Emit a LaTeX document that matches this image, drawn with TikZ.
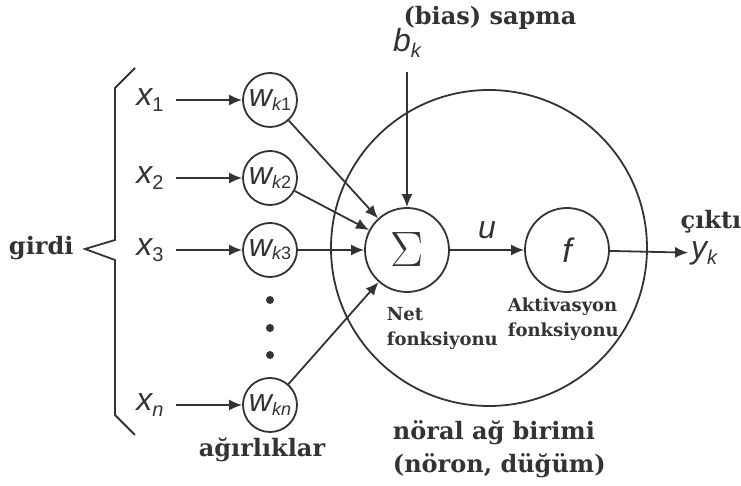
\documentclass[tikz,border=0pt]{standalone}
\usepackage{fontspec}
\setmainfont{DejaVu Serif}
\newfontfamily\lblfont{Liberation Sans}
\usetikzlibrary{positioning}
\usetikzlibrary{arrows.meta}

\definecolor{inkgray}{HTML}{333333}
\newcommand{\varsub}[2]{{\lblfont\itshape #1}\raisebox{-0.35ex}{\lblfont\fontsize{10}{10}\selectfont #2}}
\newcommand{\wsub}[1]{{\lblfont\itshape\fontsize{16}{16}\selectfont w}\raisebox{-0.3ex}{\lblfont\fontsize{9}{9}\selectfont\itshape k\upshape#1}}

\tikzset{
  wnode/.style={draw, circle, minimum size=27pt, inner sep=0pt},
  unit/.style={draw, circle, minimum size=42pt, inner sep=0pt},
  xlbl/.style={font=\lblfont\fontsize{16}{16}\selectfont, inner sep=1pt},
  bold lbl/.style={font=\bfseries\fontsize{12}{12}\selectfont},
  small lbl/.style={font=\bfseries\fontsize{9}{12.5}\selectfont, align=left, inner sep=0pt},
  link/.style={-{Latex[length=6.5pt,width=5.5pt]}, line width=0.9pt},
}

\begin{document}
\begin{tikzpicture}[x=0.5pt, y=-0.5pt, color=inkgray, line width=0.9pt]
  \useasboundingbox (0,0) rectangle (741,486);
  % neuron body
  \node[draw, circle, minimum size=158pt, inner sep=0pt] (neuron) at (489,248) {};
  \node[unit, font=\fontsize{29}{29}\selectfont] (sigma) at (407,250) {$\Sigma$};
  \node[unit, font=\lblfont\itshape\fontsize{17}{17}\selectfont] (act) at (567,250) {f};
  % bias
  \node[xlbl] (bk) at (407,43) {\varsub{b}{\itshape k}};
  \node[bold lbl] (biaslbl) at (490,18) {(bias) sapma};
  \draw[link, shorten <=6pt] (bk) -- (sigma);
  % inputs and weights
  \node[xlbl] (x1) at (150,100) {\varsub{x}{1}};
  \node[xlbl] (x2) at (150,178) {\varsub{x}{2}};
  \node[xlbl] (x3) at (150,250) {\varsub{x}{3}};
  \node[xlbl] (xn) at (150,405) {\varsub{x}{\itshape n}};
  \node[wnode] (w1) at (270,100) {\wsub{1}};
  \node[wnode] (w2) at (270,178) {\wsub{2}};
  \node[wnode] (w3) at (270,250) {\wsub{3}};
  \node[wnode] (wn) at (270,405) {\wsub{\itshape n}};
  \foreach \i in {1,2,3,n} {
    \draw[link, shorten <=5pt] (x\i) -- (w\i);
    \draw[link] (w\i) -- (sigma);
  }
  \foreach \y in {300,328,355}
    \fill (270,\y) circle[radius=4];
  % output
  \draw[link] (sigma) -- node[above=2pt, font=\lblfont\itshape\fontsize{16}{16}\selectfont] (ulbl) {u} (act);
  \node[xlbl] (yk) at (704,253) {\varsub{y}{\itshape k}};
  \node[bold lbl] (cikti) at (711,222) {çıktı};
  \draw[link] (act) -- (yk);
  % input brace
  \draw (135,68) -- (115,88) -- (115,240) -- (85,249) -- (115,260) -- (115,415) -- (135,435);
  \node[bold lbl, anchor=east] (girdi) at (81,248) {girdi};
  \node[bold lbl] (agirlik) at (262,450) {ağırlıklar};
  % function labels
  \node[small lbl, anchor=north west] (netlbl) at (386,306) {Net\\fonksiyonu};
  \node[small lbl, anchor=north west] (actlbl) at (507,297) {Aktivasyon\\fonksiyonu};
  \node[bold lbl, anchor=north west, align=left, font=\bfseries\fontsize{12}{16.5}\selectfont, inner sep=0pt] (unitlbl) at (392,420) {nöral ağ birimi\\(nöron, düğüm)};
\end{tikzpicture}
\end{document}
